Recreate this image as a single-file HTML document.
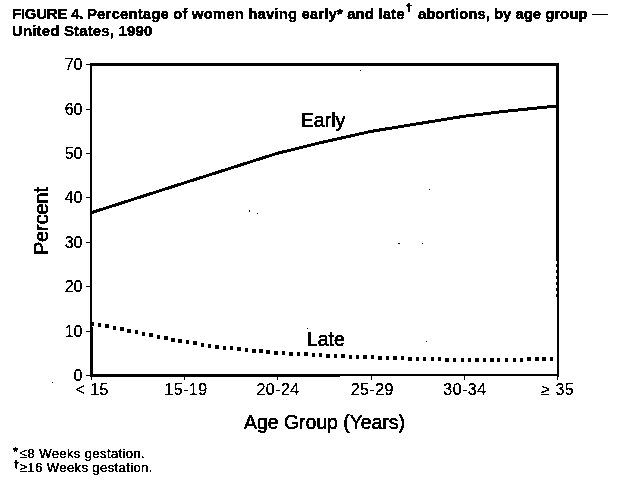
<!DOCTYPE html>
<html><head><meta charset="utf-8"><style>
html,body{margin:0;padding:0;background:#fff;}
body{width:628px;height:483px;position:relative;overflow:hidden;font-family:"Liberation Sans", sans-serif;color:#000;-webkit-text-stroke:0.25px #000;}
sup.dg{font-size:11px;vertical-align:0;position:relative;top:-8px;margin-left:1px;margin-right:2px;-webkit-text-stroke:0.9px #000;}
.le{font-weight:normal;font-size:14px;-webkit-text-stroke:0.1px #000;}
.fs{font-size:inherit;}
svg{position:absolute;left:0;top:0;}
#wrap{position:absolute;left:0;top:0;width:628px;height:483px;background:#fff;filter:url(#bw);}
</style></head><body>
<svg width="0" height="0" style="position:absolute;left:0;top:0"><filter id="bw" color-interpolation-filters="sRGB"><feColorMatrix type="saturate" values="0"/><feComponentTransfer><feFuncR type="discrete" tableValues="0 1"/><feFuncG type="discrete" tableValues="0 1"/><feFuncB type="discrete" tableValues="0 1"/></feComponentTransfer></filter></svg>
<div id="wrap">
<svg width="628" height="483" viewBox="0 0 628 483">
<g fill="#000">
<rect x="90" y="63" width="469" height="3"/>
<rect x="90" y="63" width="2" height="314"/>
<rect x="92" y="327" width="1" height="49" fill-opacity="0.55"/>
<rect x="557" y="63" width="2" height="314"/>
<rect x="556" y="63" width="1" height="195"/>
<rect x="556" y="258" width="1" height="3"/><rect x="556" y="264" width="1" height="3"/><rect x="556" y="270" width="1" height="3"/><rect x="556" y="276" width="1" height="3"/><rect x="556" y="282" width="1" height="3"/><rect x="556" y="288" width="1" height="3"/><rect x="556" y="294" width="1" height="3"/>
<rect x="90" y="374" width="469" height="2"/>
<rect x="90" y="376" width="250" height="1" fill-opacity="0.6"/>
<rect x="86" y="375" width="4" height="1"/>
<rect x="86" y="331" width="4" height="1"/>
<rect x="86" y="286" width="4" height="1"/>
<rect x="86" y="242" width="4" height="1"/>
<rect x="86" y="197" width="4" height="1"/>
<rect x="86" y="153" width="4" height="1"/>
<rect x="86" y="109" width="4" height="1"/>
<rect x="86" y="64" width="4" height="1"/>
<rect x="91" y="376" width="1" height="3.5"/>
<rect x="184" y="376" width="1" height="3.5"/>
<rect x="277" y="376" width="1" height="3.5"/>
<rect x="371" y="376" width="1" height="3.5"/>
<rect x="464" y="376" width="1" height="3.5"/>
<rect x="557" y="376" width="1" height="3.5"/>
<rect x="249" y="210" width="1" height="2"/>
<rect x="257" y="213" width="1" height="1"/>
<rect x="398" y="243" width="2" height="1"/>
<rect x="422" y="243" width="1" height="1"/>
<rect x="429" y="189" width="1" height="1"/>
<rect x="426" y="341" width="1" height="1"/>
<rect x="52" y="382" width="1" height="1"/>
<rect x="360" y="70" width="1" height="1"/>
<rect x="307" y="328" width="1" height="1"/>
<rect x="90" y="322" width="4" height="4"/>
<rect x="98" y="323" width="3" height="4"/>
<rect x="105" y="324" width="4" height="4"/>
<rect x="113" y="326" width="3" height="4"/>
<rect x="120" y="327" width="4" height="4"/>
<rect x="127" y="329" width="4" height="4"/>
<rect x="135" y="330" width="3" height="4"/>
<rect x="142" y="332" width="3" height="4"/>
<rect x="149" y="333" width="4" height="4"/>
<rect x="157" y="335" width="3" height="4"/>
<rect x="164" y="336" width="4" height="4"/>
<rect x="171" y="338" width="4" height="4"/>
<rect x="178" y="339" width="4" height="4"/>
<rect x="186" y="340" width="3" height="4"/>
<rect x="193" y="341" width="4" height="4"/>
<rect x="201" y="343" width="3" height="4"/>
<rect x="208" y="344" width="3" height="4"/>
<rect x="215" y="345" width="4" height="4"/>
<rect x="223" y="346" width="3" height="4"/>
<rect x="230" y="346" width="3" height="4"/>
<rect x="237" y="347" width="4" height="4"/>
<rect x="245" y="348" width="3" height="4"/>
<rect x="252" y="349" width="4" height="4"/>
<rect x="259" y="349" width="4" height="4"/>
<rect x="266" y="350" width="4" height="4"/>
<rect x="274" y="351" width="4" height="4"/>
<rect x="282" y="351" width="3" height="4"/>
<rect x="289" y="352" width="4" height="4"/>
<rect x="297" y="352" width="3" height="4"/>
<rect x="304" y="352" width="4" height="4"/>
<rect x="312" y="353" width="3" height="4"/>
<rect x="319" y="353" width="3" height="4"/>
<rect x="326" y="354" width="4" height="4"/>
<rect x="334" y="354" width="3" height="4"/>
<rect x="341" y="354" width="4" height="4"/>
<rect x="349" y="355" width="3" height="4"/>
<rect x="356" y="355" width="3" height="4"/>
<rect x="363" y="355" width="4" height="4"/>
<rect x="371" y="355" width="3" height="4"/>
<rect x="378" y="356" width="4" height="4"/>
<rect x="386" y="356" width="3" height="4"/>
<rect x="393" y="356" width="4" height="4"/>
<rect x="401" y="356" width="3" height="4"/>
<rect x="408" y="357" width="4" height="4"/>
<rect x="416" y="357" width="3" height="4"/>
<rect x="423" y="357" width="3" height="4"/>
<rect x="431" y="357" width="3" height="4"/>
<rect x="438" y="357" width="3" height="4"/>
<rect x="445" y="358" width="4" height="4"/>
<rect x="453" y="358" width="3" height="4"/>
<rect x="461" y="358" width="3" height="4"/>
<rect x="468" y="358" width="3" height="4"/>
<rect x="475" y="358" width="4" height="4"/>
<rect x="483" y="358" width="3" height="4"/>
<rect x="490" y="358" width="4" height="4"/>
<rect x="497" y="358" width="3" height="4"/>
<rect x="505" y="358" width="3" height="4"/>
<rect x="513" y="358" width="3" height="4"/>
<rect x="520" y="358" width="3" height="4"/>
<rect x="527" y="357" width="4" height="4"/>
<rect x="535" y="357" width="4" height="4"/>
<rect x="542" y="357" width="4" height="4"/>
<rect x="550" y="357" width="3" height="4"/>
</g>
<path d="M91.0,212.80 L184.0,183.00 L277.0,153.40 L320.0,142.80 L371.0,131.40 L420.0,123.40 L464.0,116.30 L505.0,111.30 L557.0,106.00" fill="none" stroke="#000" stroke-width="3.0" stroke-linejoin="round" shape-rendering="crispEdges"/>
</svg>
<div style="position:absolute;top:6.30px;font-size:15px;line-height:15px;white-space:nowrap;font-weight:bold;left:12px;-webkit-text-stroke:0.35px #000;"><span style="letter-spacing:-0.25px;word-spacing:0px">FIGURE 4. </span><span style="letter-spacing:0.1px">Percentage of women having early* and late</span><sup class="dg">&dagger;</sup><span style="letter-spacing:-0.06px"> abortions, by age group</span> <span style="margin-left:1px">&mdash;</span></div><div style="position:absolute;top:23.30px;font-size:15px;line-height:15px;white-space:nowrap;font-weight:bold;left:12px;-webkit-text-stroke:0.35px #000;letter-spacing:0.15px;">United States, 1990</div><div style="position:absolute;top:368.26px;font-size:16px;line-height:16px;white-space:nowrap;left:-17.5px;width:100px;text-align:right;">0</div><div style="position:absolute;top:324.26px;font-size:16px;line-height:16px;white-space:nowrap;left:-17.5px;width:100px;text-align:right;">10</div><div style="position:absolute;top:279.26px;font-size:16px;line-height:16px;white-space:nowrap;left:-17.5px;width:100px;text-align:right;">20</div><div style="position:absolute;top:235.26px;font-size:16px;line-height:16px;white-space:nowrap;left:-17.5px;width:100px;text-align:right;">30</div><div style="position:absolute;top:190.26px;font-size:16px;line-height:16px;white-space:nowrap;left:-17.5px;width:100px;text-align:right;">40</div><div style="position:absolute;top:146.26px;font-size:16px;line-height:16px;white-space:nowrap;left:-17.5px;width:100px;text-align:right;">50</div><div style="position:absolute;top:102.26px;font-size:16px;line-height:16px;white-space:nowrap;left:-17.5px;width:100px;text-align:right;">60</div><div style="position:absolute;top:57.26px;font-size:16px;line-height:16px;white-space:nowrap;left:-17.5px;width:100px;text-align:right;">70</div><div style="position:absolute;top:382.46px;font-size:16px;line-height:16px;white-space:nowrap;left:-107.75px;width:400px;text-align:center;letter-spacing:0.45px;">&lt; 15</div><div style="position:absolute;top:382.46px;font-size:16px;line-height:16px;white-space:nowrap;left:-14.050000000000011px;width:400px;text-align:center;letter-spacing:0.45px;">15-19</div><div style="position:absolute;top:382.46px;font-size:16px;line-height:16px;white-space:nowrap;left:78.04999999999995px;width:400px;text-align:center;letter-spacing:0.45px;">20-24</div><div style="position:absolute;top:382.46px;font-size:16px;line-height:16px;white-space:nowrap;left:172.35000000000002px;width:400px;text-align:center;letter-spacing:0.45px;">25-29</div><div style="position:absolute;top:382.46px;font-size:16px;line-height:16px;white-space:nowrap;left:264.95px;width:400px;text-align:center;letter-spacing:0.45px;">30-34</div><div style="position:absolute;top:382.46px;font-size:16px;line-height:16px;white-space:nowrap;left:357.75px;width:400px;text-align:center;letter-spacing:0.45px;">&ge; 35</div><div style="position:absolute;top:413.08px;font-size:19.4px;line-height:19.4px;white-space:nowrap;left:124.5px;width:400px;text-align:center;-webkit-text-stroke:0.45px #000;">Age Group (Years)</div><div style="position:absolute;top:111.49px;font-size:19.5px;line-height:19.5px;white-space:nowrap;left:300.8px;-webkit-text-stroke:0.6px #000;">Early</div><div style="position:absolute;top:330.49px;font-size:19.5px;line-height:19.5px;white-space:nowrap;left:306.8px;-webkit-text-stroke:0.6px #000;">Late</div><div style="position:absolute;top:445.00px;font-size:13px;line-height:13px;white-space:nowrap;font-weight:bold;left:13px;"><span class="fs">*</span></div><div style="position:absolute;top:460.04px;font-size:10px;line-height:10px;white-space:nowrap;font-weight:bold;left:13.5px;-webkit-text-stroke:0.7px #000;"><span class="fs">&dagger;</span></div><div style="position:absolute;top:447.00px;font-size:13px;line-height:13px;white-space:nowrap;left:19.5px;letter-spacing:0.4px;-webkit-text-stroke:0.4px #000;"><span class="le">&le;</span>8 Weeks gestation.</div><div style="position:absolute;top:460.50px;font-size:13px;line-height:13px;white-space:nowrap;left:19.5px;letter-spacing:0.4px;-webkit-text-stroke:0.4px #000;"><span class="le">&ge;</span>16 Weeks gestation.</div><div style="position:absolute;left:-59px;top:210.5px;width:200px;height:20px;transform:rotate(-90deg);text-align:center;font-size:19.8px;line-height:20px;-webkit-text-stroke:0.6px #000;">Percent</div>
</div>
</body></html>
